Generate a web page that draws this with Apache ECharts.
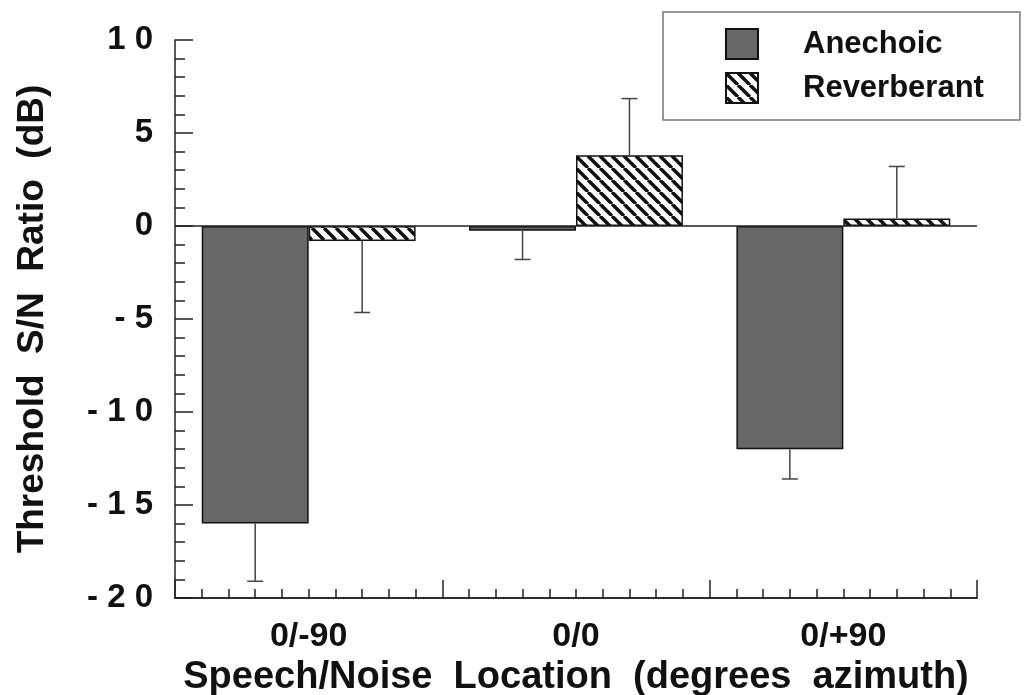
<!DOCTYPE html>
<html lang="en">
<head>
  <meta charset="UTF-8">
  <title>Threshold S/N Ratio</title>
  <style>
    html, body { margin: 0; padding: 0; background: #fff; }
    #chart { width: 1027px; height: 695px; }
  </style>
</head>
<body>
  <div id="chart"></div>
  <script src="https://cdn.jsdelivr.net/npm/echarts@6/dist/echarts.min.js"></script>
  <script>
    // data
    const categories = ['0/-90', '0/0', '0/+90']
    const anechoic = [-16.0, -0.25, -12.0]
    const anechoicErr = [-19.1, -1.8, -13.6]
    const reverberant = [-0.8, 3.8, 0.4]
    const reverberantErr = [-4.65, 6.85, 3.2]

    const FONT = '"Liberation Sans", Arial, Helvetica, sans-serif'

    // diagonal hatch for the reverberant bars
    function hatch () {
      const s = 12
      const c = document.createElement('canvas')
      c.width = s
      c.height = s
      const ctx = c.getContext('2d')
      ctx.fillStyle = '#fff'
      ctx.fillRect(0, 0, s, s)
      ctx.strokeStyle = '#111'
      ctx.lineWidth = 3.5
      for (let k = -1; k <= 1; k++) {
        ctx.beginPath()
        ctx.moveTo(k * s, 0)
        ctx.lineTo(k * s + s, s)
        ctx.stroke()
      }
      return { image: c, repeat: 'repeat' }
    }

    // error bar items: [category, bar value, error end, side]
    const errData = []
    categories.forEach((c, i) => {
      errData.push([i, anechoic[i], anechoicErr[i], -1])
      errData.push([i, reverberant[i], reverberantErr[i], 1])
    })

    const chart = echarts.init(document.getElementById('chart'))

    chart.setOption({
      animation: false,
      textStyle: { fontFamily: FONT },
      grid: {
        left: 175, right: 50, top: 40, bottom: 97,
        containLabel: false,
        outerBoundsMode: 'none'
      },
      legend: {
        data: ['Anechoic', 'Reverberant'],
        orient: 'vertical',
        left: 663,
        top: 12,
        padding: [16, 36, 16, 62],
        itemWidth: 32,
        itemHeight: 30,
        itemGap: 12,
        icon: 'rect',
        borderColor: '#777',
        borderWidth: 1.5,
        textStyle: {
          fontFamily: FONT,
          fontSize: 31,
          fontWeight: 'bold',
          color: '#111',
          padding: [0, 0, 0, 40]
        }
      },
      xAxis: [{
        type: 'category',
        data: categories,
        position: 'bottom',
        axisLine: { onZero: false, lineStyle: { color: '#222', width: 1.5 } },
        axisTick: { show: false },
        axisLabel: {
          margin: 22,
          fontFamily: FONT,
          fontSize: 34,
          fontWeight: 'bold',
          color: '#111'
        },
        name: 'Speech/Noise  Location  (degrees  azimuth)',
        nameLocation: 'middle',
        nameGap: 53,
        nameTextStyle: {
          fontFamily: FONT,
          fontSize: 38,
          fontWeight: 'bold',
          color: '#111'
        }
      }, {
        // carries the tick marks along the bottom
        type: 'value',
        min: 0,
        max: 30,
        interval: 10,
        position: 'bottom',
        axisLine: { onZero: false, lineStyle: { color: '#222', width: 1.5 } },
        axisTick: { inside: true, length: 18, lineStyle: { color: '#222', width: 1.5 } },
        minorTick: { show: true, splitNumber: 10, length: 9, lineStyle: { color: '#222', width: 1.5 } },
        axisLabel: { show: false },
        splitLine: { show: false }
      }],
      yAxis: {
        type: 'value',
        min: -20,
        max: 10,
        interval: 5,
        axisLine: { show: true, onZero: false, lineStyle: { color: '#222', width: 1.5 } },
        axisTick: { inside: true, length: 18, lineStyle: { color: '#222', width: 1.5 } },
        minorTick: { show: true, splitNumber: 5, length: 10, lineStyle: { color: '#222', width: 1.5 } },
        splitLine: { show: false },
        axisLabel: {
          margin: 22,
          fontFamily: FONT,
          fontSize: 33,
          fontWeight: 'bold',
          color: '#111',
          formatter: v => String(v).split('').join(' ')
        },
        name: 'Threshold  S/N  Ratio  (dB)',
        nameLocation: 'middle',
        nameGap: 124,
        nameTextStyle: {
          fontFamily: FONT,
          fontSize: 37,
          fontWeight: 'bold',
          color: '#111'
        }
      },
      series: [{
        name: 'Anechoic',
        type: 'bar',
        data: anechoic,
        barGap: '0%',
        barCategoryGap: '20%',
        itemStyle: { color: '#676767', borderColor: '#111', borderWidth: 1.5 },
        markLine: {
          silent: true,
          symbol: 'none',
          label: { show: false },
          lineStyle: { color: '#222', width: 1.5, type: 'solid' },
          data: [{ yAxis: 0 }]
        }
      }, {
        name: 'Reverberant',
        type: 'bar',
        data: reverberant,
        itemStyle: { color: hatch(), borderColor: '#111', borderWidth: 1.5 }
      }, {
        type: 'custom',
        data: errData,
        encode: { x: 0, y: [1, 2] },
        z: 5,
        renderItem: (params, api) => {
          const cat = api.value(0)
          const w = api.size([1, 0])[0]
          const cx = api.coord([cat, 0])[0] + api.value(3) * 0.2 * w
          const y0 = api.coord([cat, api.value(1)])[1]
          const y1 = api.coord([cat, api.value(2)])[1]
          const style = { stroke: '#444', lineWidth: 1.5 }
          return {
            type: 'group',
            children: [
              { type: 'line', shape: { x1: cx, y1: y0, x2: cx, y2: y1 }, style },
              { type: 'line', shape: { x1: cx - 8, y1: y1, x2: cx + 8, y2: y1 }, style }
            ]
          }
        }
      }]
    })
  </script>
</body>
</html>
